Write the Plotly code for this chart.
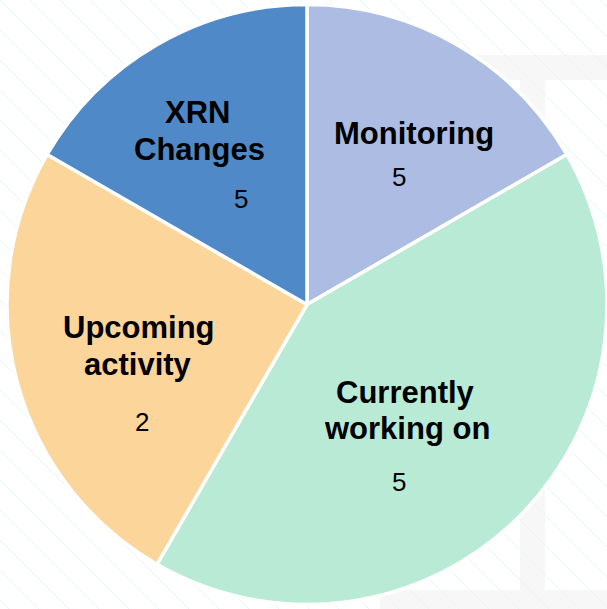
import plotly.graph_objects as go

# ---- data ----
categories = ["Monitoring", "Currently working on", "Upcoming activity", "XRN Changes"]
slice_values = [2, 5, 3, 2]          # relative slice sizes as drawn
shown_counts = ["5", "5", "2", "5"]  # numbers printed on slices
colors = ["#ADBCE2", "#B8EAD6", "#FCD59B", "#4F89C8"]

# label lines per slice (text)
label_lines = [["Monitoring"], ["Currently", "working on"], ["Upcoming", "activity"], ["XRN", "Changes"]]

W, H = 607, 609

fig = go.Figure(go.Pie(
    labels=categories,
    values=slice_values,
    sort=False,
    direction="clockwise",
    rotation=0,
    marker=dict(colors=colors, line=dict(color="white", width=3.5)),
    textinfo="none",
    hoverinfo="label",
    showlegend=False,
    domain=dict(x=[0.0115, 1.0], y=[0.0, 1.0]),
))

def px2x(px):
    return px / W

def px2y(py):
    return 1 - py / H

# layout positions (pixel centres) for label lines and counts
label_pos = [[(414, 134)], [(405, 392), (407, 428)], [(139, 327), (138, 364)], [(197, 112), (199, 149)]]
count_pos = [(399, 177), (399, 482), (142, 422), (241, 199)]

annotations = []
for lines, poss, cnt, cpos in zip(label_lines, label_pos, shown_counts, count_pos):
    for t, (x, y) in zip(lines, poss):
        annotations.append(dict(
            text=f"<b>{t}</b>", x=px2x(x), y=px2y(y), xref="paper", yref="paper",
            showarrow=False, xanchor="center", yanchor="middle",
            font=dict(family="Liberation Sans, Arial", size=31, color="#000000"),
        ))
    annotations.append(dict(
        text=cnt, x=px2x(cpos[0]), y=px2y(cpos[1]), xref="paper", yref="paper",
        showarrow=False, xanchor="center", yanchor="middle",
        font=dict(family="Liberation Sans, Arial", size=26, color="#000000"),
    ))

# background decoration: faint diagonal stripes and a light grey frame
shapes = []
for k in range(-22, 22):
    x0 = k * 30
    shapes.append(dict(type="line", xref="paper", yref="paper", layer="below",
                       x0=px2x(x0), y0=px2y(0), x1=px2x(x0 + H), y1=px2y(H),
                       line=dict(color="#E6F6F6", width=1)))
for (a, b, c, d) in [(440, 55, 607, 80), (520, 80, 545, 590), (380, 590, 607, 609)]:
    shapes.append(dict(type="rect", xref="paper", yref="paper", layer="below",
                       x0=px2x(a), y0=px2y(b), x1=px2x(c), y1=px2y(d),
                       line=dict(width=0), fillcolor="rgba(240,240,240,0.5)"))

fig.update_layout(
    width=W, height=H,
    margin=dict(l=0, r=0, t=0, b=0),
    paper_bgcolor="white",
    plot_bgcolor="white",
    annotations=annotations,
    shapes=shapes,
)

fig.write_html("out.html", config={"displayModeBar": False},
               post_script="document.body.style.margin='0';")
